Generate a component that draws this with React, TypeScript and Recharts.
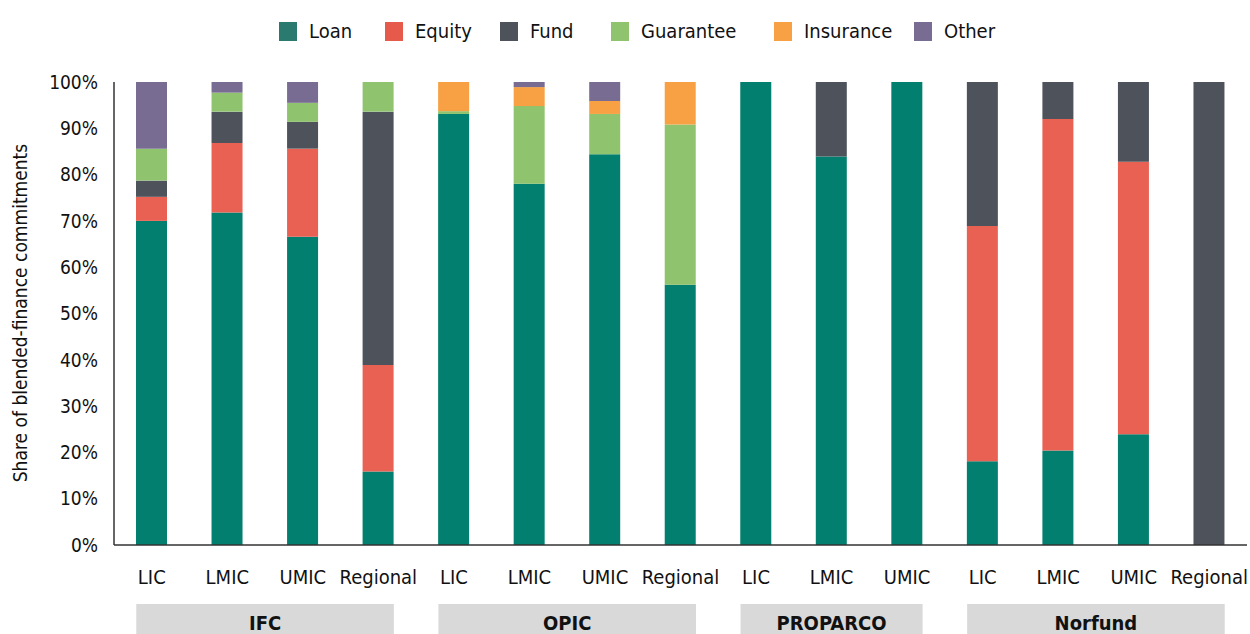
import React from "react";
import { BarChart, Bar, XAxis, YAxis } from "recharts";

const categories = ["LIC", "LMIC", "UMIC", "Regional", "LIC", "LMIC", "UMIC", "Regional", "LIC", "LMIC", "UMIC", "LIC", "LMIC", "UMIC", "Regional"];
const groups = ["IFC", "IFC", "IFC", "IFC", "OPIC", "OPIC", "OPIC", "OPIC", "PROPARCO", "PROPARCO", "PROPARCO", "Norfund", "Norfund", "Norfund", "Norfund"];

const loan = [70, 71.8, 66.6, 15.9, 93.1, 78.0, 84.4, 56.2, 100, 83.9, 100, 18.1, 20.4, 23.9, 0];
const equity = [5.2, 15, 19, 23, 0, 0, 0, 0, 0, 0, 0, 50.8, 71.6, 58.9, 0];
const fund = [3.5, 6.8, 5.8, 54.7, 0, 0, 0, 0, 0, 16.1, 0, 31.1, 8.0, 17.2, 100];
const guarantee = [6.9, 4.1, 4.1, 6.4, 0.6, 16.8, 8.7, 34.6, 0, 0, 0, 0, 0, 0, 0];
const insurance = [0, 0, 0, 0, 6.3, 4.1, 2.8, 9.2, 0, 0, 0, 0, 0, 0, 0];
const other = [14.4, 2.3, 4.5, 0, 0, 1.1, 4.1, 0, 0, 0, 0, 0, 0, 0, 0];

const yTicks = [0, 10, 20, 30, 40, 50, 60, 70, 80, 90, 100];

const series = [
  { key: "loan", name: "Loan", color: "#037f6f", legend: "#2b7a6f", w: 106 },
  { key: "equity", name: "Equity", color: "#e86153", legend: "#e65a4b", w: 115 },
  { key: "fund", name: "Fund", color: "#4d525b", legend: "#4d525b", w: 111 },
  { key: "guarantee", name: "Guarantee", color: "#8fc36d", legend: "#8fc36d", w: 163 },
  { key: "insurance", name: "Insurance", color: "#f7a144", legend: "#f7a144", w: 140 },
  { key: "other", name: "Other", color: "#786c93", legend: "#786c93", w: 90 },
];

const data = categories.map((c, i) => ({
  key: groups[i] + "-" + c,
  category: c,
  group: groups[i],
  loan: loan[i],
  equity: equity[i],
  fund: fund[i],
  guarantee: guarantee[i],
  insurance: insurance[i],
  other: other[i],
}));

const FONT = "'Liberation Sans Narrow', 'DejaVu Sans Condensed', 'Roboto', sans-serif";
const W = 1250;
const H = 634;
const LEFT = 114;
const RIGHT = 3;
const BAR = 31;
const step = (W - LEFT - RIGHT) / categories.length;

function CategoryTick(props: any) {
  const { x, y, index } = props;
  const d = data[index];
  let box = null;
  if (index === 0 || groups[index - 1] !== d.group) {
    const n = groups.filter((g) => g === d.group).length;
    const x0 = x - BAR / 2;
    const x1 = x + (n - 1) * step + BAR / 2;
    box = (
      <g>
        <rect x={x0} y={y + 51} width={x1 - x0} height={34} fill="#d9d9da" />
        <text x={(x0 + x1) / 2} y={y + 77} textAnchor="middle" fontSize={20} fontWeight="bold" fill="#111" fontFamily={FONT}>
          {d.group}
        </text>
      </g>
    );
  }
  return (
    <g>
      <text x={x} y={y + 31} textAnchor="middle" fontSize={20} fill="#111" fontFamily={FONT}>
        {d.category}
      </text>
      {box}
    </g>
  );
}

export default function App() {
  return (
    <div style={{ position: "absolute", left: 0, top: 0, width: W, height: H, background: "#fff", overflow: "hidden" }}>
      <div style={{ position: "absolute", left: 279, top: 19, display: "flex", alignItems: "center", fontFamily: FONT, fontSize: 20, color: "#111" }}>
        {series.map((s) => (
          <div key={s.key} style={{ display: "flex", alignItems: "center", width: s.w }}>
            <span style={{ width: 18, height: 19, background: s.legend, display: "inline-block", marginRight: 12, flexShrink: 0 }} />
            <span style={{ whiteSpace: "nowrap" }}>{s.name}</span>
          </div>
        ))}
      </div>
      <div
        style={{
          position: "absolute",
          left: 20,
          top: 313,
          transform: "translate(-50%, -50%) rotate(-90deg)",
          whiteSpace: "nowrap",
          fontFamily: FONT,
          fontSize: 19,
          color: "#111",
        }}
      >
        Share of blended-finance commitments
      </div>
      <BarChart width={W} height={H} data={data} margin={{ top: 82, right: RIGHT, bottom: 0, left: 0 }} barSize={BAR}>
        <XAxis dataKey="key" interval={0} tickLine={false} axisLine={{ stroke: "#333", strokeWidth: 1.5 }} height={89} tick={<CategoryTick />} />
        <YAxis
          width={LEFT}
          domain={[0, 100]}
          ticks={yTicks}
          tickLine={false}
          axisLine={{ stroke: "#333", strokeWidth: 1.5 }}
          tickFormatter={(v: number) => v + "%"}
          tick={{ fontSize: 19, fill: "#111", fontFamily: FONT }}
          tickMargin={10}
        />
        {series.map((s) => (
          <Bar key={s.key} dataKey={s.key} name={s.name} stackId="a" fill={s.color} isAnimationActive={false} />
        ))}
      </BarChart>
    </div>
  );
}
